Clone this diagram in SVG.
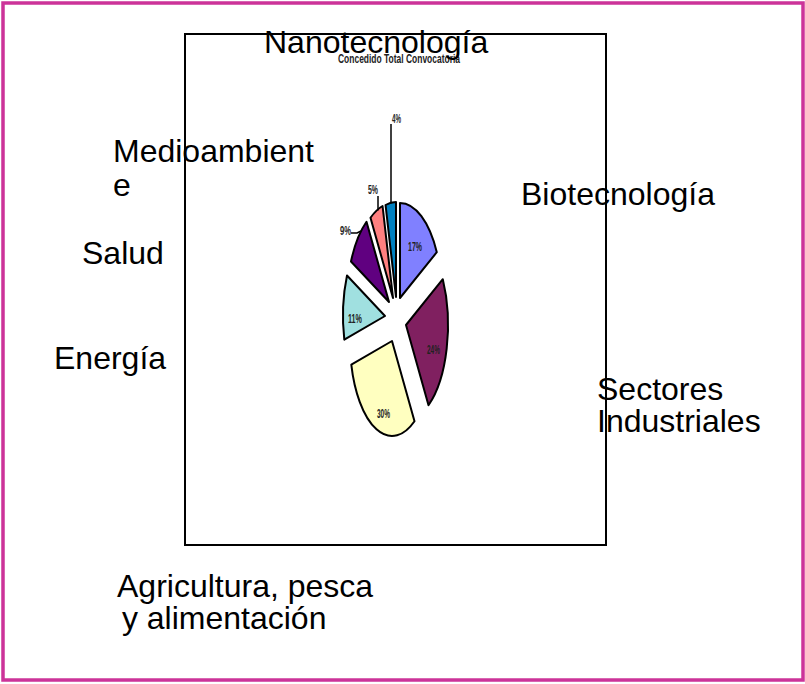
<svg xmlns="http://www.w3.org/2000/svg" width="805" height="684" viewBox="0 0 805 684">
<style>
.lbl{font-family:"Liberation Sans",Arial,sans-serif;font-size:32px;fill:#000}
.pct{font-family:"Liberation Sans",Arial,sans-serif;font-size:13px;font-weight:bold;fill:#222}
.slice{stroke:#000;stroke-width:2;stroke-linejoin:round}
.lead{stroke:#000;stroke-width:1.5;fill:none}
</style>
<rect id="frame" x="3" y="3" width="800" height="677" fill="#fff" stroke="#CC3399" stroke-width="3.5"/>
<rect id="plot" x="185" y="34" width="421" height="511" fill="none" stroke="#000" stroke-width="2"/>
<text id="title" x="338" y="63" class="pct" font-size="12px" textLength="122" lengthAdjust="spacingAndGlyphs">Concedido Total Convocatoria</text>
<g id="pie">
  <g id="s-nano"><path class="slice" fill="#0080C0" d="M396,297 L385.55,205 A42,95 0 0,1 396,202 Z"/></g>
  <g id="s-bio"><path class="slice" fill="#8080FF" d="M400,298 L400,203 A42,95 0 0,1 436.8,252.2 Z"/></g>
  <g id="s-sect"><path class="slice" fill="#802060" d="M406,325 L442.8,279.2 A42,95 0 0,1 428.5,405.2 Z"/></g>
  <g id="s-agri"><path class="slice" fill="#FFFFC0" d="M392,341 L414.5,421.2 A42,95 0 0,1 351.3,364.6 Z"/></g>
  <g id="s-ener"><path class="slice" fill="#A0E0E0" d="M385,316 L344.3,339.6 A42,95 0 0,1 347,275.55 Z"/></g>
  <g id="s-salud"><path class="slice" fill="#600080" d="M389,302 L351,261.55 A42,95 0 0,1 366.5,221.8 Z"/></g>
  <g id="s-medio"><path class="slice" fill="#FF8080" d="M393,298 L370.5,217.8 A42,95 0 0,1 382.55,206 Z"/></g>
</g>
<g id="connectors">
  <line class="lead" x1="391" y1="124" x2="391" y2="203.5"/>
  <line class="lead" x1="378" y1="196" x2="378" y2="210.5"/>
  <polyline class="lead" points="351,233 357,233 361,231"/>
</g>
<g id="pct-labels">
  <text class="pct" x="392" y="123" textLength="9" lengthAdjust="spacingAndGlyphs">4%</text>
  <text class="pct" x="368" y="194" textLength="10" lengthAdjust="spacingAndGlyphs">5%</text>
  <text class="pct" x="340" y="235" textLength="11" lengthAdjust="spacingAndGlyphs">9%</text>
  <text class="pct" x="408" y="251" textLength="14" lengthAdjust="spacingAndGlyphs">17%</text>
  <text class="pct" x="348" y="323" textLength="14" lengthAdjust="spacingAndGlyphs">11%</text>
  <text class="pct" x="427" y="354" textLength="13" lengthAdjust="spacingAndGlyphs">24%</text>
  <text class="pct" x="377" y="418" textLength="13" lengthAdjust="spacingAndGlyphs">30%</text>
</g>
<g id="n-nano"><text class="lbl" x="264" y="53">Nanotecnología</text></g>
<g id="n-bio"><text class="lbl" x="521" y="205">Biotecnología</text></g>
<g id="n-medio"><text class="lbl" x="113" y="162">Medioambient</text><text class="lbl" x="113" y="196">e</text></g>
<g id="n-salud"><text class="lbl" x="82" y="264">Salud</text></g>
<g id="n-ener"><text class="lbl" x="54" y="369">Energía</text></g>
<g id="n-sect"><text class="lbl" x="597" y="400">Sectores</text><text class="lbl" x="597" y="432">Industriales</text></g>
<g id="n-agri"><text class="lbl" x="117" y="597">Agricultura, pesca</text><text class="lbl" x="113" y="629" xml:space="preserve"> y alimentación</text></g>
</svg>
